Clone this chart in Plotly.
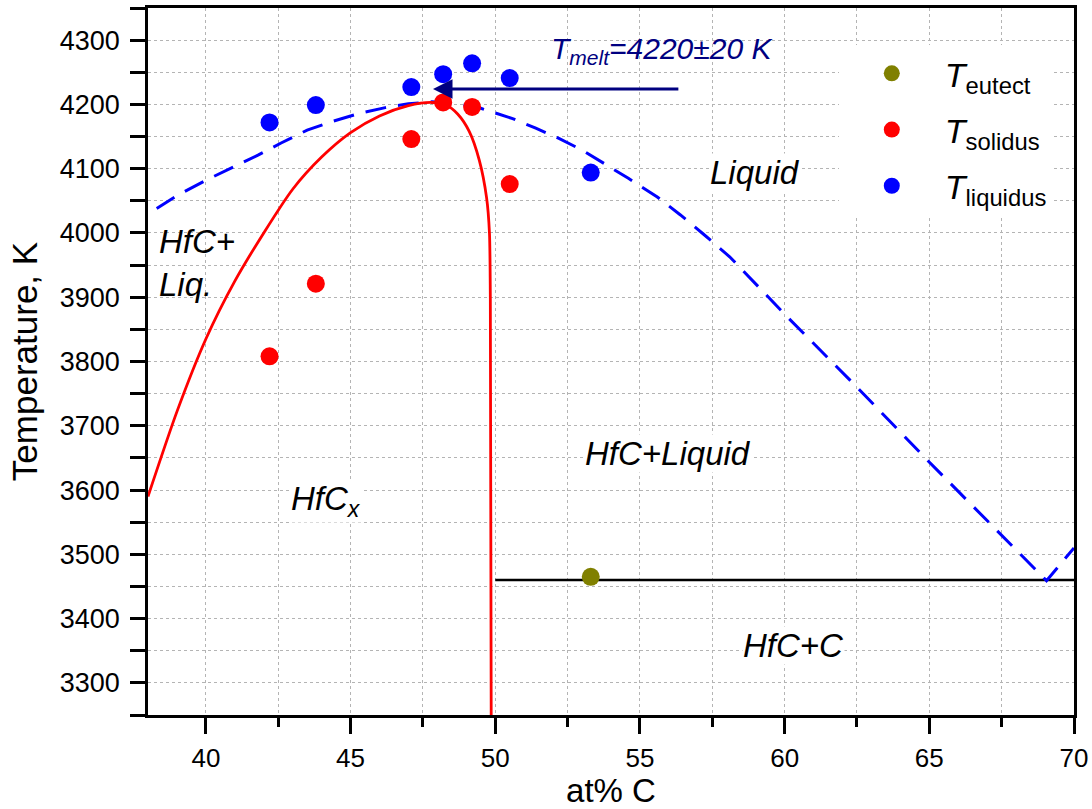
import plotly.graph_objects as go

# ---- data ----
liq_x = [42.2, 43.8, 47.1, 48.2, 49.2, 50.5, 53.3]
liq_y = [4172, 4199, 4227, 4247, 4264, 4241, 4094]
sol_x = [42.2, 43.8, 47.1, 48.2, 49.2, 50.5]
sol_y = [3808, 3921, 4146, 4203, 4196, 4076]
eut_x = [53.3]
eut_y = [3465]

solidus_curve_x = [38.0, 39.0, 40.0, 41.0, 42.0, 43.0, 44.0, 45.0, 46.0, 47.0, 47.8, 48.3, 48.7, 49.1, 49.45, 49.7, 49.8, 49.83, 49.86]
solidus_curve_y = [3590, 3722, 3835, 3925, 4000, 4068, 4118, 4156, 4182, 4198, 4203, 4199, 4185, 4158, 4113, 4055, 4000, 3900, 3250]

liquidus_curve_x = [38.3, 39.0, 40.0, 41.0, 41.8, 42.6, 43.5, 44.4, 45.3, 46.2, 47.0, 47.8, 48.6, 49.5, 50.6, 51.4, 52.2, 53.0, 53.7, 54.6, 55.6, 56.4, 57.2, 58.1, 60.1, 62.5, 64.9, 67.3, 69.05, 70.0]
liquidus_curve_y = [4038, 4058, 4082, 4104, 4121, 4140, 4160, 4174, 4186, 4195, 4201, 4204, 4202, 4194, 4178, 4163, 4147, 4129, 4110, 4085, 4056, 4028, 3998, 3963, 3869, 3760, 3648, 3539, 3459, 3510]

eutectic_line_x = [50, 70]
eutectic_line_y = [3460, 3460]

t_melt = 4224
arrow_x = [47.85, 56.38]

FONT = "Liberation Sans, Arial, sans-serif"

fig = go.Figure()

fig.add_trace(go.Scatter(x=eutectic_line_x, y=eutectic_line_y, mode="lines",
                         line=dict(color="black", width=2.5), showlegend=False, hoverinfo="skip"))
fig.add_trace(go.Scatter(x=liquidus_curve_x, y=liquidus_curve_y, mode="lines",
                         line=dict(color="#0000FF", width=3, dash="21px,12px"),
                         showlegend=False, hoverinfo="skip"))
fig.add_trace(go.Scatter(x=solidus_curve_x, y=solidus_curve_y, mode="lines",
                         line=dict(color="#FF0000", width=2.8, shape="spline", smoothing=0.7),
                         showlegend=False, hoverinfo="skip"))

fig.add_trace(go.Scatter(x=eut_x, y=eut_y, mode="markers", name="<i>T</i><sub>eutect</sub>",
                         marker=dict(color="#808000", size=18), legendgroup="a"))
fig.add_trace(go.Scatter(x=sol_x, y=sol_y, mode="markers", name="<i>T</i><sub>solidus</sub>",
                         marker=dict(color="#FF0000", size=18), legendgroup="b"))
fig.add_trace(go.Scatter(x=liq_x, y=liq_y, mode="markers", name="<i>T</i><sub>liquidus</sub>",
                         marker=dict(color="#0000FF", size=18), legendgroup="c"))

# arrow
fig.add_annotation(x=arrow_x[0], y=t_melt, ax=arrow_x[1], ay=t_melt, axref="x", ayref="y",
                   xref="x", yref="y", showarrow=True, arrowhead=2, arrowsize=1.3,
                   arrowwidth=3, arrowcolor="#000080", text="")
fig.add_annotation(x=55.75, y=4284, xref="x", yref="y", showarrow=False,
                   text="<i>T<sub>melt</sub>=4220±20 K</i>",
                   font=dict(family=FONT, size=30, color="#000080"))

lab_font = dict(family=FONT, size=33, color="black")
labels = [
    (38.35, 3954, "<i>HfC+<br>Liq.</i>", "left", "rgba(0,0,0,0)"),
    (58.97, 4094, "<i>Liquid</i>", "center", "white"),
    (55.97, 3657, "<i>HfC+Liquid</i>", "center", "white"),
    (42.9, 3583, "<i>HfC<sub>x</sub></i>", "left", "white"),
    (60.29, 3358, "<i>HfC+C</i>", "center", "white"),
]
for lx, ly, lt, anc, bg in labels:
    fig.add_annotation(x=lx, y=ly, xref="x", yref="y", text=lt, showarrow=False,
                       xanchor=anc, align="left", font=lab_font, bgcolor=bg, borderpad=0)

grid = dict(showgrid=True, gridcolor="#b4b4b4", gridwidth=1, griddash="dot")

fig.update_xaxes(range=[38, 70], dtick=5, tick0=40, ticks="outside", ticklen=16, tickwidth=2.5,
                 tickcolor="black", showline=True, linecolor="black", linewidth=2.5, mirror=True,
                 tickfont=dict(family=FONT, size=26, color="black"),
                 title=dict(text="at% C", font=dict(family=FONT, size=33, color="black"), standoff=14),
                 minor=dict(dtick=2.5, ticks="outside", ticklen=9, tickwidth=2.5, tickcolor="black",
                            showgrid=True, gridcolor="#b4b4b4", gridwidth=1, griddash="dot"),
                 zeroline=False, ticklabelstandoff=2, automargin=False, **grid)
fig.update_yaxes(range=[3250, 4350], dtick=100, tick0=3300, ticks="outside", ticklen=15, tickwidth=2.5,
                 tickcolor="black", showline=True, linecolor="black", linewidth=2.5, mirror=True,
                 tickfont=dict(family=FONT, size=27, color="black"),
                 title=dict(text="Temperature, K", font=dict(family=FONT, size=35, color="black"), standoff=12),
                 minor=dict(dtick=50, ticks="outside", ticklen=15, tickwidth=2.5, tickcolor="black",
                            showgrid=True, gridcolor="#b4b4b4", gridwidth=1, griddash="dot"),
                 zeroline=False, ticklabelstandoff=5, automargin=False, **grid)

fig.update_layout(
    width=1092, height=809,
    margin=dict(l=148, r=18, t=8, b=94, autoexpand=False),
    paper_bgcolor="white", plot_bgcolor="white",
    font=dict(family=FONT, color="black"),
    legend=dict(x=0.746, y=0.948, xanchor="left", yanchor="top", bgcolor="white",
                borderwidth=0, font=dict(family=FONT, size=34, color="black"),
                itemwidth=96, tracegroupgap=9),
)

fig.write_html("out.html")
